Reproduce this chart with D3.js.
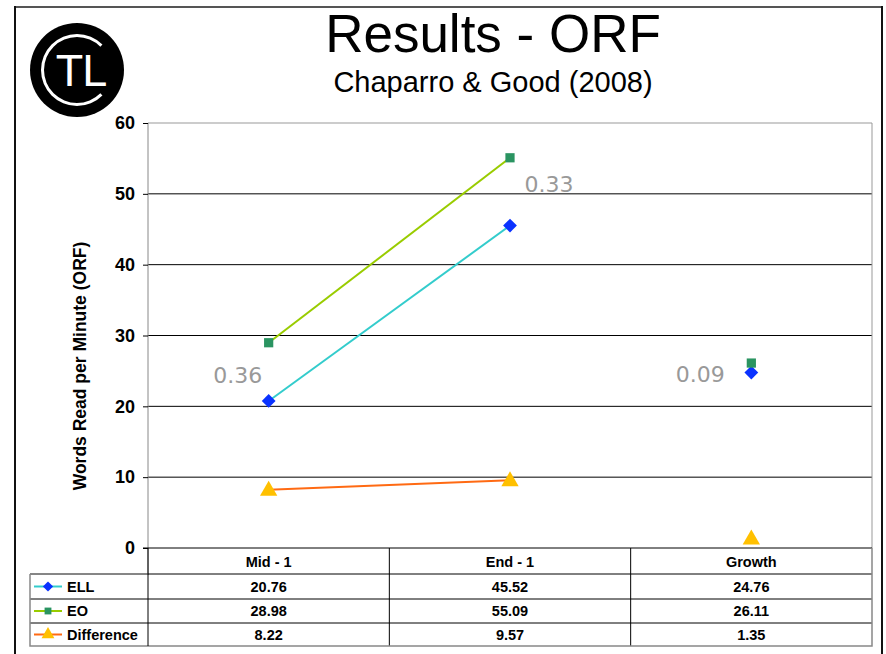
<!DOCTYPE html>
<html>
<head>
<meta charset="utf-8">
<script src="https://cdn.jsdelivr.net/npm/d3@7"></script>
<style>
  html, body { margin: 0; padding: 0; background: #fff; }
  svg { display: block; font-family: "Liberation Sans", Arial, sans-serif; }
</style>
</head>
<body>
<svg id="chart" width="886" height="654"></svg>
<script>
// Oral reading fluency results by measurement point
const categories = ["Mid - 1", "End - 1", "Growth"];
const ellValues = [20.76, 45.52, 24.76];
const eoValues = [28.98, 55.09, 26.11];
const diffValues = [8.22, 9.57, 1.35];
const yTicks = [0, 10, 20, 30, 40, 50, 60];

// Effect-size notes placed beside each group
const effectLabels = ["0.36", "0.33", "0.09"];
const effectCategory = ["Mid - 1", "End - 1", "Growth"];
const effectLevel = [24.4, 51.4, 24.6];
const effectShift = [-31, 39, -51];

const series = [
  { name: "ELL", values: ellValues, line: "#33cccc", fill: "#0a32ff", shape: "diamond" },
  { name: "EO", values: eoValues, line: "#99cc00", fill: "#2a9461", shape: "square" },
  { name: "Difference", values: diffValues, line: "#ff6a13", fill: "#ffc000", shape: "triangle" }
];

const svg = d3.select("#chart");
const plotLeft = 148, plotRight = 872, plotTop = 123, plotBottom = 548;

const x = d3.scaleBand().domain(categories).range([plotLeft, plotRight]);
const y = d3.scaleLinear().domain([0, 60]).range([plotBottom, plotTop]);

// Slide frame
svg.append("line").attr("x1", 15).attr("x2", 883).attr("y1", 7).attr("y2", 7)
  .attr("stroke", "#555").attr("stroke-width", 2);
svg.append("line").attr("x1", 15).attr("x2", 15).attr("y1", 6).attr("y2", 654)
  .attr("stroke", "#111").attr("stroke-width", 2);
svg.append("line").attr("x1", 882).attr("x2", 882).attr("y1", 6).attr("y2", 654)
  .attr("stroke", "#111").attr("stroke-width", 2);

// Logo
const logo = svg.append("g").attr("transform", "translate(77,70)");
logo.append("circle").attr("r", 47).attr("fill", "#000");
logo.append("path")
  .attr("d", d3.arc().innerRadius(33).outerRadius(36).startAngle(0.25 * Math.PI).endAngle(1.75 * Math.PI)())
  .attr("transform", "rotate(90)").attr("fill", "#fff");
logo.append("text").attr("x", 4).attr("y", 16).attr("text-anchor", "middle")
  .attr("font-size", 45).attr("fill", "#fff")
  .attr("letter-spacing", -1).text("TL");

// Titles
svg.append("text").attr("x", 493).attr("y", 52).attr("text-anchor", "middle")
  .attr("font-size", 53).attr("fill", "#000").text("Results - ORF");
svg.append("text").attr("x", 493).attr("y", 92).attr("text-anchor", "middle")
  .attr("font-size", 29).attr("fill", "#000").text("Chaparro & Good (2008)");

// Gridlines
svg.append("g").selectAll("line").data(yTicks.filter(d => d > 0 && d < 60)).join("line")
  .attr("x1", plotLeft).attr("x2", plotRight).attr("y1", d => y(d)).attr("y2", d => y(d))
  .attr("stroke", "#000").attr("stroke-width", 1);

// Plot-area border (top and right)
svg.append("path")
  .attr("d", `M${plotLeft},${y(60)}H${plotRight}V${plotBottom}`)
  .attr("fill", "none").attr("stroke", "#999").attr("stroke-width", 1);

// Y axis
const yAxis = d3.axisLeft(y).tickValues(yTicks).tickSize(5).tickPadding(8);
const ga = svg.append("g").attr("transform", `translate(${plotLeft},0)`).call(yAxis);
ga.select(".domain").attr("stroke", "#888").attr("d", `M0,${plotTop}V${plotBottom + 27}`);
ga.selectAll(".tick line").attr("stroke", "#000");
ga.selectAll(".tick text").attr("font-size", 18).attr("font-weight", "bold")
  .attr("font-family", "Liberation Sans, Arial").attr("fill", "#000");

svg.append("text")
  .attr("transform", `translate(86,366) rotate(-90)`)
  .attr("text-anchor", "middle").attr("font-size", 17.5).attr("font-weight", "bold")
  .text("Words Read per Minute (ORF)");

// Zero baseline (also table top)
svg.append("line").attr("x1", plotLeft - 5).attr("x2", plotRight).attr("y1", y(0)).attr("y2", y(0))
  .attr("stroke", "#000");

// Series lines: connect the two measurement points only
const lineGen = d3.line()
  .defined((d, i) => i < 2)
  .x((d, i) => x(categories[i]) + x.bandwidth() / 2)
  .y(d => y(d));

// Diamonds are squares turned by 45 degrees
const symbolFor = s => s === "triangle" ? d3.symbolTriangle : d3.symbolSquare;
const sizeFor = s => s === "diamond" ? 95 : s === "square" ? 85 : 130;
const turnFor = s => s === "diamond" ? " rotate(45)" : "";

series.forEach(s => {
  svg.append("path").datum(s.values).attr("d", lineGen)
    .attr("fill", "none").attr("stroke", s.line).attr("stroke-width", 2);
});
series.forEach(s => {
  svg.append("g").selectAll("path").data(s.values).join("path")
    .attr("transform", (d, i) => `translate(${x(categories[i]) + x.bandwidth() / 2},${y(d) + (s.shape === "triangle" ? 1 : 0)})${turnFor(s.shape)}`)
    .attr("d", d3.symbol().type(symbolFor(s.shape)).size(sizeFor(s.shape)))
    .attr("fill", s.fill);
});

// Effect-size notes
svg.append("g").selectAll("text").data(effectLabels).join("text")
  .attr("x", (d, i) => x(effectCategory[i]) + x.bandwidth() / 2 + effectShift[i])
  .attr("y", (d, i) => y(effectLevel[i]) + 8)
  .attr("text-anchor", "middle").attr("font-size", 22)
  .attr("font-family", "DejaVu Sans, Verdana, sans-serif")
  .attr("fill", "#999").text(d => d);

// Data table
const rowH = [548, 574, 599, 623, 646];
const tLeft = 30;
const tFont = 14.5;
const tbl = svg.append("g");
tbl.selectAll("text.cat").data(categories).join("text").attr("class", "cat")
  .attr("x", d => x(d) + x.bandwidth() / 2).attr("y", 567)
  .attr("text-anchor", "middle").attr("font-size", tFont).attr("font-weight", "bold").text(d => d);
tbl.selectAll("line.col").data(categories.slice(1)).join("line").attr("class", "col")
  .attr("x1", d => x(d)).attr("x2", d => x(d)).attr("y1", rowH[0]).attr("y2", rowH[4])
  .attr("stroke", "#000");
tbl.selectAll("line.row").data(rowH.slice(1, 4)).join("line").attr("class", "row")
  .attr("x1", tLeft).attr("x2", plotRight).attr("y1", d => d).attr("y2", d => d).attr("stroke", "#000");
tbl.append("path")
  .attr("d", `M${tLeft},${rowH[1]}H${plotLeft}M${plotRight},${rowH[0]}V${rowH[4]}H${tLeft}V${rowH[1]}`)
  .attr("fill", "none").attr("stroke", "#888").attr("stroke-width", 1.5);
tbl.append("line").attr("x1", plotLeft).attr("x2", plotLeft).attr("y1", rowH[0]).attr("y2", rowH[4]).attr("stroke", "#000");

series.forEach((s, r) => {
  const yc = (rowH[r + 1] + rowH[r + 2]) / 2;
  const g = tbl.append("g");
  g.append("line").attr("x1", 34).attr("x2", 62).attr("y1", yc).attr("y2", yc)
    .attr("stroke", s.line).attr("stroke-width", 2);
  g.append("path").attr("transform", `translate(48,${yc})${turnFor(s.shape)}`)
    .attr("d", d3.symbol().type(symbolFor(s.shape)).size(sizeFor(s.shape) * 0.55)).attr("fill", s.fill);
  g.append("text").attr("x", 67).attr("y", yc + 5).attr("font-size", tFont).attr("font-weight", "bold").text(s.name);
  g.selectAll("text.v").data(s.values).join("text").attr("class", "v")
    .attr("x", (d, i) => x(categories[i]) + x.bandwidth() / 2).attr("y", yc + 5)
    .attr("text-anchor", "middle").attr("font-size", tFont).attr("font-weight", "bold")
    .text(d => d.toFixed(2));
});
</script>
</body>
</html>
